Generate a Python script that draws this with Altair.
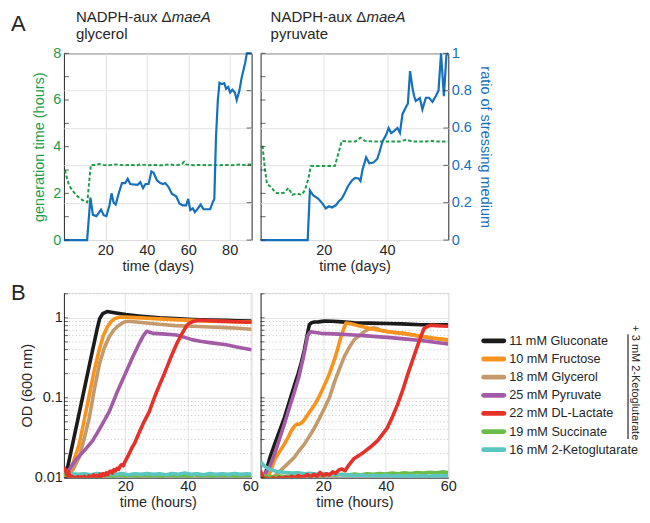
import altair as alt
import pandas as pd

FONT = "Liberation Sans"
DARK = "#262626"
GRID = "#e2e2e2"
MINOR = "#c4c4c4"
GREEN = "#1f9d4b"
BLUE = "#1570bd"

# ---------------- Panel A data: (day, value) ----------------
gly_gen_pts = [(0.5, 3.0), (1.2, 2.75), (2.3, 2.4), (3.5, 2.2), (4.7, 2.06), (6, 1.92), (8, 1.77),
               (10, 1.65), (11.3, 1.62), (12.2, 2.5), (13, 3.22), (15, 3.22), (17, 3.26), (19, 3.22),
               (21, 3.2), (23, 3.22), (25, 3.24), (27, 3.22), (29, 3.2), (31, 3.22), (33, 3.22),
               (35, 3.2), (37, 3.24), (39, 3.22), (41, 3.2), (43, 3.22), (45, 3.22), (47, 3.2),
               (49, 3.22), (51, 3.24), (53, 3.22), (55, 3.22), (57, 3.26), (58, 3.35), (59, 3.24),
               (61, 3.22), (63, 3.2), (65, 3.22), (67, 3.22), (69, 3.2), (71, 3.22), (73, 3.22),
               (75, 3.2), (77, 3.22), (79, 3.22), (81, 3.2), (83, 3.22), (85, 3.24), (87, 3.22),
               (89, 3.24), (90.6, 3.22)]
gly_ratio_pts = [(0, 0), (11.2, 0), (12.8, 0.227), (14, 0.135), (15.7, 0.128), (17.9, 0.163),
                 (19.2, 0.133), (20.5, 0.128), (22, 0.186), (23, 0.25), (24, 0.2), (25, 0.19),
                 (26.4, 0.248), (28, 0.305), (29.6, 0.305), (30.8, 0.328), (32, 0.3), (33.6, 0.298),
                 (35.6, 0.296), (36.9, 0.31), (38.2, 0.278), (39.4, 0.3), (40.9, 0.3), (42.2, 0.367),
                 (43.3, 0.36), (44.9, 0.32), (46.5, 0.305), (47.8, 0.3), (48.9, 0.305), (50.5, 0.284),
                 (52.1, 0.248), (54.2, 0.234), (55.8, 0.195), (57.4, 0.186), (59, 0.186), (60, 0.22),
                 (61, 0.16), (62.2, 0.17), (63.2, 0.15), (64.4, 0.165), (66, 0.19), (67.4, 0.165),
                 (70.6, 0.165), (71.9, 0.204), (72.6, 0.22), (73.4, 0.55), (74.3, 0.75), (75.1, 0.842),
                 (76.3, 0.835), (77.4, 0.84), (78.3, 0.81), (79.3, 0.82), (80.2, 0.79), (81.3, 0.805),
                 (82.5, 0.79), (83.4, 0.75), (84.7, 0.8), (85.8, 0.87), (87.5, 0.95), (88.3, 1.0),
                 (90.6, 1.0)]
pyr_gen_pts = [(0.6, 4.04), (1.25, 3.2), (2, 2.4), (3.4, 2.27), (4.6, 2.03), (6.2, 1.99), (7.5, 2.03),
               (8.8, 2.23), (10, 1.94), (11.4, 1.99), (13, 1.94), (14, 2.13), (15.1, 2.62), (15.9, 3.17),
               (18, 3.17), (20, 3.17), (22, 3.17), (23.5, 3.17), (25, 3.9), (25.7, 4.25), (28, 4.22),
               (30, 4.22), (31.6, 4.38), (33, 4.25), (36, 4.22), (39, 4.22), (42, 4.22), (44, 4.22),
               (46, 4.3), (48, 4.22), (50, 4.22), (52, 4.22), (54, 4.25), (56, 4.22), (58, 4.22),
               (59.4, 4.22)]
pyr_ratio_pts = [(0, 0), (14.9, 0), (15.6, 0.266), (16.6, 0.24), (18.2, 0.222), (19.6, 0.195),
                 (20.6, 0.169), (21.6, 0.181), (22.6, 0.174), (23.8, 0.186), (24.7, 0.207),
                 (25.7, 0.222), (26.6, 0.25), (27.6, 0.287), (28.9, 0.319), (29.9, 0.333), (31, 0.33),
                 (31.6, 0.316), (32.3, 0.38), (33.4, 0.443), (34.4, 0.411), (35.7, 0.415),
                 (36.9, 0.434), (37.6, 0.47), (38.6, 0.53), (39.7, 0.562), (40.5, 0.6), (41.3, 0.573),
                 (42.3, 0.585), (43.3, 0.6), (44.1, 0.575), (44.9, 0.674), (46, 0.713), (46.6, 0.73),
                 (47.3, 0.905), (48.1, 0.81), (48.6, 0.77), (49.1, 0.745), (50.4, 0.76), (51.2, 0.7),
                 (52.3, 0.762), (53.3, 0.762), (54.4, 0.74), (55.4, 0.77), (56.3, 0.8), (57.1, 1.0),
                 (58, 0.77), (58.8, 0.99), (59.4, 1.0)]

gen_tick_values = [0, 1, 2, 3, 4, 5, 6, 7, 8]
gen_label_values = [0, 2, 4, 6, 8]
ratio_values = [0, 0.2, 0.4, 0.6, 0.8, 1]

# ---------------- Panel B data: (hours, OD600) ----------------
legend_names = ["11 mM Gluconate", "10 mM Fructose", "18 mM Glycerol", "25 mM Pyruvate",
                "22 mM DL-Lactate", "19 mM Succinate", "16 mM 2-Ketoglutarate"]
legend_colors = ["#1b1b1b", "#f8941d", "#c49a6c", "#a45ba6", "#e5312a", "#6cbd48", "#5bc5bf"]

gly_black = [(0.4, 0.0108), (1, 0.0105), (3, 0.0245), (5, 0.057), (7, 0.133), (9, 0.31), (11, 0.72),
             (11.8, 0.97), (12.8, 1.13), (14.2, 1.2), (17, 1.15), (20.2, 1.1), (25, 1.05), (31, 1.0),
             (36, 0.98), (41.6, 0.955), (47, 0.94), (52.3, 0.93), (56, 0.92), (60.4, 0.91)]
gly_orange = [(0.4, 0.0105), (2, 0.011), (3.5, 0.016), (5.3, 0.0263), (7, 0.055), (8.5, 0.108),
              (10, 0.21), (11.7, 0.4), (13, 0.6), (14.4, 0.785), (15.5, 0.9), (16.5, 0.97),
              (18.1, 1.02), (20, 1.02), (25, 1.0), (30.9, 0.97), (36, 0.95), (41.6, 0.93), (47, 0.91),
              (52.3, 0.9), (57, 0.89), (60.4, 0.885)]
gly_tan = [(0.4, 0.0105), (2, 0.011), (3.5, 0.013), (5.3, 0.018), (7, 0.032), (8.5, 0.056), (10, 0.12),
           (11.7, 0.26), (13.3, 0.42), (14.9, 0.58), (16.3, 0.7), (17.6, 0.785), (19, 0.86),
           (20.2, 0.9), (22, 0.9), (26, 0.87), (30.9, 0.83), (36, 0.8), (41.6, 0.785), (47, 0.77),
           (52.3, 0.755), (56, 0.74), (60.4, 0.72)]
gly_purple = [(0.4, 0.011), (2, 0.0125), (4.2, 0.0167), (7, 0.022), (9.6, 0.029), (12, 0.042),
              (14.9, 0.067), (17.5, 0.12), (20.2, 0.207), (22.5, 0.33), (24.5, 0.48), (25.8, 0.6),
              (26.9, 0.68), (28.8, 0.64), (32, 0.63), (36.3, 0.61), (39, 0.57), (41.6, 0.53),
              (44, 0.51), (47, 0.49), (52.3, 0.46), (56, 0.43), (60.4, 0.4)]
gly_red = [(0.4, 0.0135), (0.9, 0.0125), (1.4, 0.0108), (1.9, 0.0118), (2.4, 0.0098), (2.9, 0.0104),
           (3.4, 0.0096), (3.9, 0.0101), (4.4, 0.0097), (4.9, 0.0103), (5.4, 0.0095), (5.9, 0.0102),
           (6.4, 0.0098), (6.9, 0.0104), (7.4, 0.0099), (7.9, 0.0097), (8.4, 0.0105), (8.9, 0.0099),
           (9.4, 0.0103), (9.9, 0.0108), (10.4, 0.0101), (10.9, 0.0106), (11.4, 0.0102),
           (11.9, 0.011), (12.4, 0.0104), (12.9, 0.0112), (13.4, 0.0107), (13.9, 0.0115),
           (14.4, 0.0109), (14.9, 0.0118), (15.4, 0.0121), (15.9, 0.0114), (16.4, 0.0126),
           (16.9, 0.0122), (17.4, 0.0131), (17.9, 0.0127), (18.4, 0.014), (18.9, 0.0146),
           (19.4, 0.0141), (19.9, 0.0158), (20.4, 0.0172), (21, 0.019), (22, 0.023), (23, 0.027),
           (24.5, 0.037), (26, 0.05), (27.7, 0.067), (29.3, 0.1), (30.9, 0.143), (32.5, 0.2),
           (34.1, 0.288), (35.5, 0.39), (36.8, 0.505), (38.2, 0.64), (39.5, 0.785), (40.5, 0.86),
           (41.6, 0.9), (42.7, 0.92), (43.8, 0.93), (46, 0.925), (50, 0.91), (55, 0.895),
           (60.4, 0.88)]
gly_green = [(0.4, 0.0112), (2, 0.0104), (4, 0.0102), (6, 0.0105), (8, 0.0103), (10, 0.0106),
             (12, 0.0104), (14, 0.0107), (16, 0.0104), (18, 0.0108), (20, 0.0105), (22, 0.0107),
             (24, 0.0104), (26, 0.0108), (28, 0.0105), (30, 0.0107), (32, 0.0104), (34, 0.0108),
             (36, 0.0105), (38, 0.0107), (40, 0.0104), (42, 0.0109), (44, 0.0105), (46, 0.0107),
             (48, 0.0104), (50, 0.0108), (52, 0.0105), (54, 0.0107), (56, 0.0104), (58, 0.0108),
             (60.4, 0.0106)]
gly_cyan = [(0.4, 0.0125), (1, 0.0119), (2, 0.0114), (3, 0.0112), (5, 0.011), (7, 0.0112),
            (9, 0.0109), (11, 0.0113), (13, 0.011), (15, 0.0112), (17, 0.011), (19, 0.0113),
            (21, 0.0109), (23, 0.0112), (25, 0.011), (27, 0.0113), (29, 0.011), (31, 0.0112),
            (33, 0.0109), (35, 0.0113), (37, 0.011), (39, 0.0114), (41, 0.011), (43, 0.0112),
            (45, 0.0109), (47, 0.0113), (49, 0.011), (51, 0.0112), (53, 0.011), (55, 0.0113),
            (57, 0.011), (59, 0.0112), (60.4, 0.011)]

pyr_black = [(0.3, 0.0098), (1.3, 0.0103), (3, 0.018), (4.5, 0.0263), (6, 0.038), (7.6, 0.056),
             (9.2, 0.09), (10.8, 0.143), (12, 0.2), (13, 0.275), (14, 0.4), (14.6, 0.53), (15.2, 0.7),
             (15.6, 0.83), (16.3, 0.87), (17.2, 0.886), (18.5, 0.89), (20.4, 0.91), (23, 0.905),
             (26, 0.89), (29.9, 0.87), (35, 0.86), (40.5, 0.85), (45, 0.84), (51.2, 0.82), (55, 0.82),
             (60, 0.82)]
pyr_orange = [(0.5, 0.0105), (1.5, 0.0095), (2.3, 0.0099), (3.5, 0.013), (4.5, 0.0167), (6, 0.021),
              (7.6, 0.0263), (9, 0.033), (9.8, 0.0385), (10.8, 0.044), (11.6, 0.047), (12.4, 0.0465),
              (13.2, 0.049), (14, 0.053), (15.5, 0.065), (17.2, 0.081), (18.8, 0.105), (20.4, 0.143),
              (22, 0.2), (23.6, 0.3), (24.7, 0.42), (25.7, 0.58), (26.5, 0.72), (27.3, 0.86),
              (28.9, 0.845), (31, 0.8), (35.3, 0.73), (40.5, 0.67), (45.9, 0.64), (51.2, 0.59),
              (55, 0.56), (60, 0.53)]
pyr_tan = [(1, 0.0105), (2.5, 0.0098), (4.5, 0.0105), (6.6, 0.0125), (8.7, 0.015), (10.8, 0.018),
           (12.4, 0.022), (14, 0.0263), (15.6, 0.033), (17.2, 0.042), (18.8, 0.055), (20.4, 0.074),
           (22, 0.1), (23.6, 0.157), (25.2, 0.23), (26.8, 0.33), (28.4, 0.43), (29.9, 0.53),
           (31.5, 0.6), (33.1, 0.67), (34.5, 0.72), (35.8, 0.75), (37, 0.74), (38.4, 0.7), (42, 0.66),
           (45.9, 0.635), (51.2, 0.585), (55, 0.555), (60, 0.525)]
pyr_purple = [(0.5, 0.011), (1.5, 0.0112), (3, 0.014), (4.5, 0.02), (6, 0.03), (7.6, 0.047),
              (9.2, 0.075), (10.8, 0.118), (12.2, 0.18), (13.5, 0.3), (14.3, 0.42), (15, 0.59),
              (15.6, 0.65), (16.1, 0.67), (17, 0.66), (19.3, 0.64), (25, 0.625), (29.9, 0.61),
              (35, 0.59), (40.5, 0.57), (45, 0.55), (51.2, 0.52), (55, 0.5), (60, 0.47)]
pyr_red = [(0, 0.0122), (0.5, 0.0106), (1, 0.0096), (2, 0.0099), (3, 0.0094), (4, 0.01), (5, 0.0096),
           (6, 0.0101), (7, 0.0097), (8, 0.0102), (9, 0.0098), (10, 0.0104), (11, 0.0099),
           (12, 0.0106), (13, 0.0101), (14, 0.0104), (15, 0.0109), (16, 0.0102), (17, 0.011),
           (18, 0.0104), (19, 0.0116), (20, 0.0106), (21, 0.0112), (22, 0.0108), (23, 0.0118),
           (24, 0.0113), (25, 0.0125), (26, 0.0128), (27, 0.0122), (28, 0.014), (29.9, 0.0174),
           (31.5, 0.019), (33.1, 0.021), (35, 0.024), (37.4, 0.029), (39, 0.035), (40.5, 0.042),
           (42, 0.056), (43.7, 0.081), (45.3, 0.12), (46.9, 0.189), (48.5, 0.29), (50.1, 0.44),
           (51.2, 0.58), (52.2, 0.73), (53.3, 0.78), (54.4, 0.81), (56, 0.8), (58, 0.79), (60, 0.785)]
pyr_green = [(0, 0.0108), (2, 0.0104), (4, 0.0102), (6, 0.0105), (8, 0.0103), (10, 0.0106),
             (12, 0.0104), (14, 0.0107), (16, 0.0105), (18, 0.0108), (20, 0.0106), (22, 0.0109),
             (24, 0.0107), (26, 0.011), (28, 0.0108), (30, 0.0111), (32, 0.0109), (34, 0.0112),
             (36, 0.011), (38, 0.0113), (40, 0.0111), (42, 0.0114), (44, 0.0112), (46, 0.0115),
             (48, 0.0113), (50, 0.0116), (52, 0.0114), (54, 0.0117), (56, 0.0115), (58, 0.0118),
             (60, 0.0116)]
pyr_cyan = [(0, 0.0158), (1, 0.0142), (2, 0.0133), (3, 0.0127), (4, 0.0123), (5, 0.012), (6, 0.0118),
            (8, 0.0116), (10, 0.0114), (12, 0.0115), (14, 0.0112), (16, 0.0113), (18, 0.0111),
            (20, 0.0112), (22, 0.011), (24, 0.0111), (26, 0.0108), (28, 0.0109), (30, 0.0106),
            (32, 0.0108), (34, 0.0105), (36, 0.0107), (38, 0.0105), (40, 0.0107), (42, 0.0104),
            (44, 0.0106), (46, 0.0104), (48, 0.0106), (50, 0.0104), (52, 0.0106), (54, 0.0104),
            (56, 0.0106), (58, 0.0105), (60, 0.0107)]

od_major = [0.01, 0.1, 1]
od_minor = [0.02, 0.03, 0.04, 0.05, 0.06, 0.07, 0.08, 0.09,
            0.2, 0.3, 0.4, 0.5, 0.6, 0.7, 0.8, 0.9, 2]

W = 188
HA = 187
HB = 185
FS = 14.5


def pts_df(pts):
    return pd.DataFrame(pts, columns=["t", "v"])


def vals_df(vals):
    return pd.DataFrame({"v": vals})


def text_layer(txt, x, y, size=15, style="normal", color=DARK, align="left",
               baseline="alphabetic", angle=0):
    return alt.Chart(pd.DataFrame({"k": [0]})).mark_text(
        text=txt, font=FONT, fontSize=size, fontStyle=style, color=color,
        align=align, baseline=baseline, angle=angle
    ).encode(x=alt.value(x), y=alt.value(y))


def panel_a(gen_pts, ratio_pts, xmax, xvals, line2, tx, first, letter):
    x = alt.X("t:Q", scale=alt.Scale(domain=[0, xmax], nice=False, zero=False),
              axis=alt.Axis(values=xvals, title="time (days)", grid=True, gridColor=GRID,
                            labelPadding=3.5, labelFlush=False, titleY=20, titleBaseline="top",
                            ticks=False, tickSize=0, domain=False))
    gen_scale = alt.Scale(domain=[0, 8], nice=False, zero=False)
    ratio_scale = alt.Scale(domain=[0, 1], nice=False, zero=False)
    if first:
        gen_axis = alt.Axis(orient="left", values=gen_label_values, title="generation time (hours)",
                            labelColor=GREEN, titleColor=GREEN, labelPadding=3.2, titleX=-17.4,
                            titleBaseline="bottom", grid=False, ticks=False, tickSize=0, domain=False)
        ratio_axis = alt.Axis(orient="right", values=ratio_values, grid=True, gridColor=GRID,
                              labels=False, title=None, ticks=False, tickSize=0, domain=False)
    else:
        gen_axis = alt.Axis(orient="left", values=gen_label_values, labels=False, title=None,
                            grid=False, ticks=False, tickSize=0, domain=False)
        ratio_axis = alt.Axis(orient="right", values=ratio_values, format="~g", grid=True,
                              gridColor=GRID, labels=True, labelColor=BLUE, labelPadding=3,
                              title="ratio of stressing medium", titleColor=BLUE, titleX=29.7,
                              titleBaseline="bottom", ticks=False, tickSize=0, domain=False)
    gen = alt.Chart(pts_df(gen_pts)).mark_line(color=GREEN, strokeWidth=2, strokeDash=[3.5, 2.2]).encode(
        x=x, y=alt.Y("v:Q", scale=gen_scale, axis=gen_axis))
    ratio = alt.Chart(pts_df(ratio_pts)).mark_line(color=BLUE, strokeWidth=2.2).encode(
        x=x, y=alt.Y("v:Q", scale=ratio_scale, axis=ratio_axis))
    tl = alt.Chart(vals_df(gen_tick_values)).mark_tick(
        orient="horizontal", size=5, thickness=1, color=DARK).encode(
        x=alt.value(2.5), y=alt.Y("v:Q", scale=gen_scale, axis=None))
    tr = alt.Chart(vals_df(ratio_values)).mark_tick(
        orient="horizontal", size=5, thickness=1, color=DARK).encode(
        x=alt.value(W - 2.5), y=alt.Y("v:Q", scale=ratio_scale, axis=None))
    layers = [gen, ratio, tl, tr,
              text_layer("NADPH-aux \u0394", tx, -31.3),
              text_layer("maeA", tx + 96, -31.3, style="italic"),
              text_layer(line2, tx, -14.7)]
    if letter:
        layers.append(text_layer(letter, -53, -22.7, size=22))
    return alt.layer(*layers).resolve_scale(y="independent").properties(
        width=W, height=HA, view=alt.ViewBackground(stroke=DARK, strokeWidth=1))


def panel_b(series, xdomain, first, letter):
    x = alt.X("t:Q", scale=alt.Scale(domain=xdomain, nice=False, zero=False),
              axis=alt.Axis(values=[20, 40, 60], title="time (hours)", grid=True, gridColor=GRID,
                            labelPadding=1.5, labelFlush=False, titleY=18, titleBaseline="top",
                            ticks=False, tickSize=0, domain=True, domainColor=DARK))
    ys = alt.Scale(type="log", domain=[0.01, 2.05], nice=False)
    if first:
        yax = alt.Axis(values=od_major, format="~g", grid=True, gridColor=GRID, labels=True,
                       labelPadding=1.5, title="OD (600 nm)", titleX=-29, titleBaseline="bottom",
                       ticks=False, tickSize=0, domain=True, domainColor=DARK)
    else:
        yax = alt.Axis(values=od_major, grid=True, gridColor=GRID, labels=False, title=None,
                       ticks=False, tickSize=0, domain=True, domainColor=DARK)
    minor = alt.Chart(vals_df(od_minor)).mark_rule(
        color=MINOR, strokeDash=[1, 2.5], strokeWidth=1).encode(y=alt.Y("v:Q", scale=ys, axis=yax))
    ticks = alt.Chart(vals_df(od_major + od_minor)).mark_tick(
        orient="horizontal", size=4, thickness=1, color=DARK).encode(
        x=alt.value(2), y=alt.Y("v:Q", scale=ys, axis=yax))
    layers = [minor]
    for pts, color in series:
        layers.append(alt.Chart(pts_df(pts)).mark_line(
            color=color, strokeWidth=3.6, clip=True, strokeJoin="round").encode(
            x=x, y=alt.Y("v:Q", scale=ys, axis=yax)))
    layers.append(ticks)
    if letter:
        layers.append(text_layer(letter, -53, 7, size=22))
    return alt.layer(*layers).properties(
        width=W, height=HB, view=alt.ViewBackground(stroke="#dedede", strokeWidth=1))


c = dict(zip(legend_names, legend_colors))
order = ["11 mM Gluconate", "18 mM Glycerol", "10 mM Fructose", "25 mM Pyruvate",
         "19 mM Succinate", "16 mM 2-Ketoglutarate", "22 mM DL-Lactate"]
gly_series = dict(zip(legend_names, [gly_black, gly_orange, gly_tan, gly_purple, gly_red, gly_green, gly_cyan]))
pyr_series = dict(zip(legend_names, [pyr_black, pyr_orange, pyr_tan, pyr_purple, pyr_red, pyr_green, pyr_cyan]))

A1 = panel_a(gly_gen_pts, gly_ratio_pts, 90.6, [20, 40, 60, 80], "glycerol", 12, True, "A")
A2 = panel_a(pyr_gen_pts, pyr_ratio_pts, 59.4, [20, 40], "pyruvate", 10, False, None)
B1 = panel_b([(gly_series[n], c[n]) for n in order], [0.4, 60.4], True, "B")
B2 = panel_b([(pyr_series[n], c[n]) for n in order], [0, 60], False, None)

# legend panel
leg_df = pd.DataFrame({"name": legend_names})
ly = alt.Y("name:N", sort=legend_names, axis=None,
           scale=alt.Scale(type="point", range=[48, 157], padding=0))
lc = alt.Color("name:N", legend=None, scale=alt.Scale(domain=legend_names, range=legend_colors))
samples = alt.Chart(leg_df).mark_rule(strokeWidth=4.8, strokeCap="round").encode(
    x=alt.value(26.4), x2=alt.value(46.6), y=ly, color=lc)
labels = alt.Chart(leg_df).mark_text(align="left", baseline="middle", fontSize=12.7,
                                     color=DARK, font=FONT).encode(
    x=alt.value(52), y=ly, text="name:N")
bar = alt.Chart(pd.DataFrame({"k": [0]})).mark_rule(color=DARK, strokeWidth=1.2).encode(
    x=alt.value(171), y=alt.value(41.3), y2=alt.value(146.3))
rot = text_layer("+ 3 mM 2-Ketoglutarate", 178, 90, size=11, align="center",
                 baseline="middle", angle=90)
LEG = alt.layer(samples, labels, bar, rot).properties(
    width=176, height=HB, view=alt.ViewBackground(stroke="transparent"))

SPACER = alt.Chart(pd.DataFrame({"k": [0]})).mark_point(opacity=0).encode(
    x=alt.value(0), y=alt.value(0)).properties(
    width=176, height=HA, view=alt.ViewBackground(stroke="transparent"))

chart = alt.concat(A1, A2, SPACER, B1, B2, LEG, columns=3,
                   spacing={"row": 53, "column": 9}, bounds="flush").properties(
    padding={"left": 2, "top": 1, "right": 0, "bottom": 0}
).configure(font=FONT).configure_axis(
    labelFont=FONT, titleFont=FONT, labelFontSize=FS, titleFontSize=FS,
    labelColor=DARK, titleColor=DARK, titleFontWeight="normal"
).configure_view(stroke=DARK, strokeWidth=1)

chart.save("out.html", embed_options={"renderer": "svg", "actions": False})
